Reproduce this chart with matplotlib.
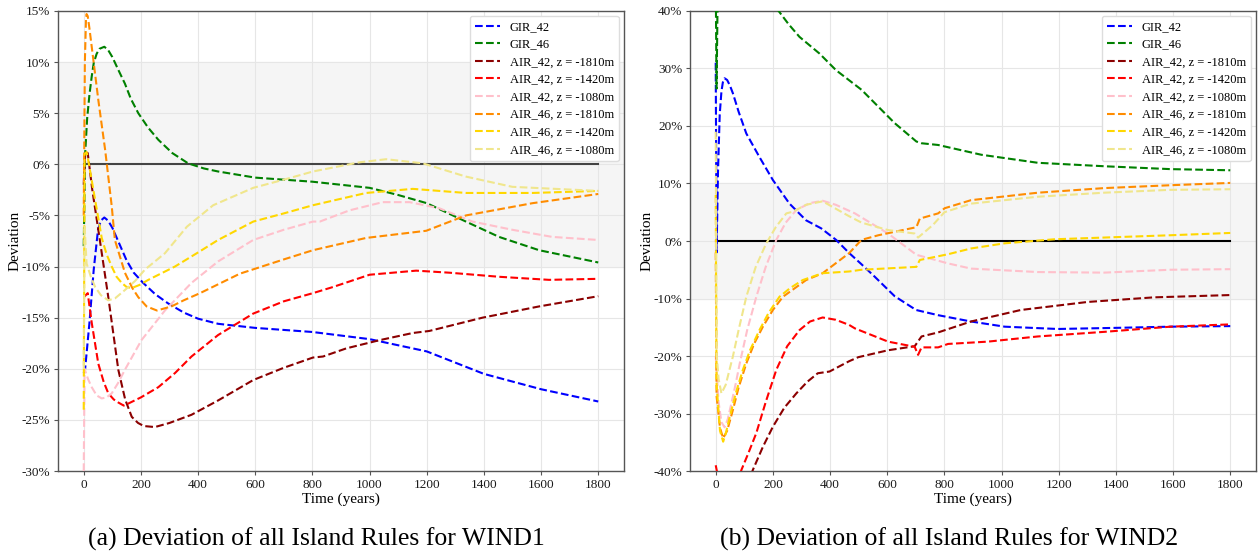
import matplotlib
matplotlib.use('Agg')
import matplotlib.pyplot as plt
from matplotlib.ticker import FuncFormatter

plt.rcParams['font.family'] = ['Liberation Serif', 'DejaVu Serif']
plt.rcParams['axes.unicode_minus'] = False

labels = ['GIR_42', 'GIR_46',
          'AIR_42, z = -1810m', 'AIR_42, z = -1420m', 'AIR_42, z = -1080m',
          'AIR_46, z = -1810m', 'AIR_46, z = -1420m', 'AIR_46, z = -1080m']
colors = ['blue', 'green', 'darkred', 'red', 'pink', 'darkorange', 'gold', 'khaki']

# ---- WIND1 (deviation in %) ----
w1_gir42_t = [0, 5, 20, 35, 50, 60, 72, 85, 100, 125, 150, 175, 208, 250, 295, 350, 400, 470, 600, 800, 1000, 1200, 1400, 1600, 1800]
w1_gir42 = [-20.4, -20, -15.5, -10.3, -6.4, -5.5, -5.2, -5.5, -6.2, -7.8, -9.4, -10.6, -11.6, -12.7, -13.6, -14.5, -15.1, -15.6, -16.0, -16.4, -17.1, -18.3, -20.5, -22.0, -23.2]

w1_gir46_t = [0, 5, 12, 20, 28, 35, 45, 55, 72, 85, 100, 120, 144, 165, 191, 225, 261, 310, 365, 420, 470, 600, 800, 1000, 1100, 1200, 1337, 1453, 1593, 1800]
w1_gir46 = [-8, 1, 4.5, 6.8, 8.6, 9.9, 10.8, 11.3, 11.5, 11.2, 10.5, 9.3, 7.9, 6.4, 5.0, 3.6, 2.4, 1.1, 0.1, -0.4, -0.7, -1.3, -1.7, -2.3, -3.0, -3.8, -5.6, -7.1, -8.4, -9.6]

w1_a42_1810_t = [0, 5, 14, 30, 51, 86, 121, 145, 168, 190, 210, 249, 300, 377, 470, 593, 700, 802, 837, 919, 1035, 1151, 1209, 1395, 1593, 1800]
w1_a42_1810 = [-2, 1.2, 1.1, -2.5, -6.4, -13, -20.1, -23.0, -24.7, -25.3, -25.6, -25.7, -25.3, -24.5, -23.1, -21.1, -19.9, -18.9, -18.8, -18.0, -17.2, -16.5, -16.3, -15.0, -13.9, -12.9]

w1_a42_1420_t = [0, 14, 28, 51, 70, 86, 105, 121, 140, 156, 200, 261, 320, 377, 470, 593, 700, 802, 872, 1000, 1163, 1279, 1453, 1628, 1800]
w1_a42_1420 = [-13, -12.6, -15.5, -19.5, -21.3, -22.4, -23.0, -23.3, -23.6, -23.4, -22.8, -21.8, -20.4, -18.8, -16.7, -14.6, -13.4, -12.6, -12.0, -10.8, -10.4, -10.6, -11.0, -11.3, -11.2]

w1_a42_1080_t = [0, 3, 15, 28, 45, 63, 80, 98, 120, 144, 202, 284, 377, 470, 593, 700, 802, 826, 930, 1046, 1140, 1244, 1360, 1499, 1639, 1800]
w1_a42_1080 = [-30, -20, -21.0, -21.8, -22.6, -22.9, -22.8, -22.4, -21.4, -20.1, -17.2, -14.3, -11.6, -9.5, -7.4, -6.4, -5.6, -5.6, -4.5, -3.7, -3.7, -4.3, -5.6, -6.4, -7.1, -7.4]

w1_a46_1810_t = [0, 4, 8, 10, 14, 20, 28, 51, 75, 98, 109, 144, 170, 191, 220, 256, 307, 350, 407, 546, 700, 802, 988, 1198, 1337, 1570, 1800]
w1_a46_1810 = [-5, 10, 14.3, 14.7, 14.5, 13.3, 11.5, 6.3, 1.4, -4.1, -7.4, -10.6, -12.1, -13.0, -13.9, -14.3, -13.9, -13.3, -12.6, -10.7, -9.3, -8.4, -7.2, -6.5, -5.0, -3.8, -2.9]

w1_a46_1420_t = [0, 3, 10, 14, 40, 63, 80, 98, 115, 133, 150, 168, 195, 226, 319, 407, 470, 593, 700, 802, 988, 1151, 1337, 1570, 1800]
w1_a46_1420 = [-24, 1, 1.2, 0.7, -3.5, -7.2, -8.8, -10.0, -11.0, -11.6, -12.0, -12.1, -11.8, -11.3, -10.0, -8.5, -7.4, -5.6, -4.8, -4.0, -2.8, -2.4, -2.8, -2.8, -2.6]

w1_a46_1080_t = [0, 3, 10, 25, 40, 60, 86, 110, 144, 180, 214, 284, 361, 453, 593, 700, 802, 965, 1058, 1186, 1337, 1499, 1800]
w1_a46_1080 = [-20, -6, -9.7, -11.0, -12.0, -12.8, -13.3, -13.1, -12.3, -11.4, -10.3, -8.7, -6.1, -4.0, -2.3, -1.5, -0.7, 0.2, 0.5, 0.1, -1.2, -2.2, -2.6]

# ---- WIND2 (deviation in %) ----
w2_gir42_t = [0, 3, 8, 14, 20, 25, 31, 40, 50, 60, 80, 107, 153, 200, 258, 316, 369, 421, 467, 509, 556, 626, 701, 778, 893, 1011, 1196, 1406, 1591, 1800]
w2_gir42 = [31, -2, 12, 22, 26, 27.6, 28.3, 28.0, 27.0, 25.7, 22.5, 18.7, 14.6, 10.6, 6.5, 3.6, 2.2, 0.2, -2.1, -4.0, -6.2, -9.6, -12.0, -12.9, -14.0, -14.9, -15.3, -15.1, -14.9, -14.8]

w2_gir46_t = [0, 3, 8, 20, 60, 120, 180, 217, 255, 293, 363, 421, 510, 626, 702, 720, 778, 929, 1127, 1359, 1591, 1800]
w2_gir46 = [45, 26.5, 48, 60, 55, 48, 43, 40.2, 37.7, 35.5, 32.6, 29.7, 26.3, 20.5, 17.3, 17.0, 16.7, 15.0, 13.6, 13.0, 12.5, 12.3]

w2_a42_1810_t = [0, 50, 100, 130, 165, 200, 240, 282, 320, 357, 398, 467, 499, 603, 696, 720, 778, 893, 1067, 1301, 1533, 1800]
w2_a42_1810 = [-60, -52, -44, -39.8, -35.8, -32.3, -29.0, -26.5, -24.5, -23.0, -22.7, -20.9, -20.2, -19.0, -18.3, -16.6, -15.9, -14.0, -12.0, -10.6, -9.8, -9.4]

w2_a42_1420_t = [0, 8, 40, 90, 115, 142, 175, 212, 250, 293, 330, 374, 420, 467, 487, 603, 696, 708, 720, 778, 813, 952, 1127, 1359, 1591, 1800]
w2_a42_1420 = [-39, -41, -48, -39.8, -36.8, -33.4, -28.0, -22.4, -18.3, -15.5, -14.0, -13.3, -13.7, -14.6, -15.2, -17.5, -18.4, -19.8, -18.5, -18.5, -17.9, -17.5, -16.6, -15.8, -14.9, -14.5]

w2_a42_1080_t = [0, 10, 20, 31, 42, 55, 70, 84, 110, 142, 175, 212, 245, 282, 330, 374, 420, 487, 603, 702, 813, 893, 1127, 1359, 1591, 1800]
w2_a42_1080 = [-20, -28, -31.5, -32.4, -31, -28.2, -24.8, -21.3, -15.5, -9.7, -4.5, 0.2, 3.2, 5.4, 6.6, 7.0, 6.3, 4.8, 1.3, -2.4, -3.9, -4.8, -5.4, -5.5, -5.0, -4.9]

w2_a46_1810_t = [0, 3, 15, 26, 40, 60, 80, 107, 135, 165, 200, 235, 316, 374, 467, 510, 569, 702, 714, 778, 801, 893, 1127, 1359, 1591, 1800]
w2_a46_1810 = [-2, -27, -32.5, -34.3, -33, -29.4, -25.5, -21.3, -17.8, -14.9, -12.0, -9.7, -6.8, -5.6, -2.1, 0.2, 1.0, 2.4, 3.9, 4.8, 5.7, 7.1, 8.4, 9.2, 9.7, 10.1]

w2_a46_1420_t = [0, 3, 15, 26, 35, 49, 70, 95, 120, 153, 185, 223, 260, 304, 374, 467, 510, 702, 714, 813, 893, 1011, 1185, 1359, 1591, 1800]
w2_a46_1420 = [8, -25, -33, -34.9, -33.5, -30.6, -26.5, -22.4, -19.0, -15.5, -12.5, -9.7, -8.2, -6.8, -5.6, -5.3, -5.0, -4.5, -3.3, -2.3, -1.3, -0.4, 0.3, 0.6, 1.0, 1.4]

w2_a46_1080_t = [0, 3, 10, 20, 35, 60, 80, 107, 140, 177, 210, 247, 270, 316, 374, 467, 510, 603, 696, 708, 760, 800, 893, 1127, 1359, 1591, 1800]
w2_a46_1080 = [19, -19.5, -24, -26.5, -25, -20.1, -15.5, -9.7, -4.5, -0.4, 2.4, 4.8, 5.1, 6.3, 6.9, 4.3, 3.2, 1.9, 1.3, 0.6, 2.8, 5.0, 6.5, 7.7, 8.4, 8.9, 9.0]

wind1 = [(w1_gir42_t, w1_gir42), (w1_gir46_t, w1_gir46),
         (w1_a42_1810_t, w1_a42_1810), (w1_a42_1420_t, w1_a42_1420), (w1_a42_1080_t, w1_a42_1080),
         (w1_a46_1810_t, w1_a46_1810), (w1_a46_1420_t, w1_a46_1420), (w1_a46_1080_t, w1_a46_1080)]
wind2 = [(w2_gir42_t, w2_gir42), (w2_gir46_t, w2_gir46),
         (w2_a42_1810_t, w2_a42_1810), (w2_a42_1420_t, w2_a42_1420), (w2_a42_1080_t, w2_a42_1080),
         (w2_a46_1810_t, w2_a46_1810), (w2_a46_1420_t, w2_a46_1420), (w2_a46_1080_t, w2_a46_1080)]

fig, axes = plt.subplots(1, 2, figsize=(12.58, 5.58), dpi=100)
fig.subplots_adjust(left=0.0461, right=0.9984, bottom=0.1559, top=0.9803, wspace=0.1166)

panels = [(axes[0], wind1, (-30, 15), range(-30, 16, 5), '#444444'),
          (axes[1], wind2, (-40, 40), range(-40, 41, 10), 'black')]

for ax, series, ylim, yticks, zero_color in panels:
    ax.axhspan(-10, 10, color='#f5f5f5', zorder=0)
    ax.grid(True, color='#e6e6e6', linewidth=0.8, zorder=0)
    ax.set_axisbelow(True)
    ax.plot([0, 1800], [0, 0], color=zero_color, linewidth=1.5, zorder=2)
    for (t, v), lab, col in zip(series, labels, colors):
        ax.plot(t, v, linestyle='--', color=col, linewidth=1.5, label=lab, zorder=3)
    ax.set_xlim(-90, 1890)
    ax.set_ylim(*ylim)
    ax.set_yticks(list(yticks))
    ax.set_xticks(range(0, 1801, 200))
    ax.yaxis.set_major_formatter(FuncFormatter(lambda v, _: f'{v:.0f}%'))
    ax.tick_params(labelsize=9.5, length=3, color='#555555', labelcolor='#1a1a1a', pad=2.5)
    for sp in ax.spines.values():
        sp.set_color('#555555')
        sp.set_linewidth(1.0)
    ax.set_xlabel('Time (years)', fontsize=11, labelpad=1)
    ax.set_ylabel('Deviation', fontsize=11, labelpad=0)
    ax.legend(loc='upper right', fontsize=9, framealpha=1, edgecolor='#dddddd',
              labelspacing=0.45, borderaxespad=0.4)

fig.text(0.2516, 0.022, '(a) Deviation of all Island Rules for WIND1', fontsize=18.5, ha='center')
fig.text(0.7544, 0.022, '(b) Deviation of all Island Rules for WIND2', fontsize=18.5, ha='center')

plt.savefig('out.png', dpi=100)
